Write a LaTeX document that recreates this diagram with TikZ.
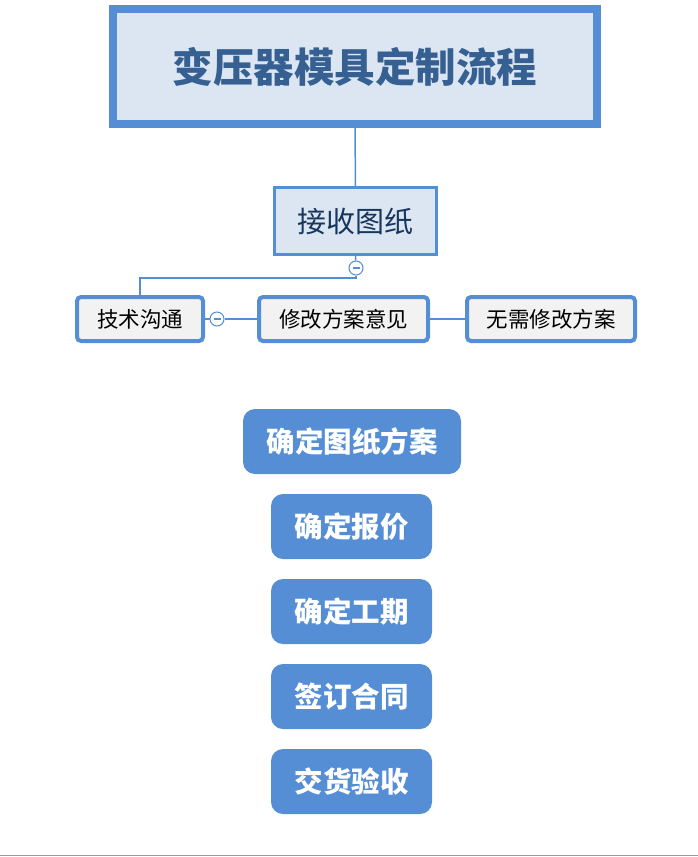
\documentclass[tikz,border=0pt]{standalone}
\usepackage{fontspec}
\setmainfont{Noto Sans CJK SC}
\usepackage{tikz}
\definecolor{lineblue}{HTML}{558ED5}
\definecolor{paleblue}{HTML}{DCE6F2}
\definecolor{titleblue}{HTML}{366092}
\definecolor{darknavy}{HTML}{17365D}
\definecolor{boxgray}{HTML}{F2F2F2}
\tikzset{
  link/.style={draw=lineblue, line width=1.5pt},
  topic/.style={draw=lineblue, fill=boxgray, line width=4pt, rounded corners=4pt, inner sep=0pt, minimum height=44pt, font=\fontsize{21.5}{26}\selectfont},
  stage/.style={fill=lineblue, text=white, rounded corners=12pt, inner sep=0pt, minimum height=65pt, font=\fontsize{28.5}{33}\selectfont\bfseries},
  fold/.style={draw=lineblue, fill=white, circle, line width=1pt, minimum size=14pt, inner sep=0pt,
    path picture={\draw[lineblue, line width=1.2pt] ([xshift=-3.5pt]path picture bounding box.center) -- ([xshift=3.5pt]path picture bounding box.center);}}
}
\begin{document}
\begin{tikzpicture}[x=1pt, y=-1pt]
			\useasboundingbox (0,0) rectangle (698,857);
			\node[draw=lineblue, fill=paleblue, line width=8pt, minimum width=484pt, minimum height=115pt, inner sep=0pt, text=titleblue, font=\fontsize{40.5}{46}\selectfont\bfseries] (title) at (355,66.5) {\raisebox{-3pt}{变压器模具定制流程}};
			\node[draw=lineblue, fill=paleblue, line width=3pt, minimum width=162pt, minimum height=67pt, inner sep=0pt, text=darknavy, font=\fontsize{29}{34}\selectfont] (receive) at (355.5,221) {接收图纸};
			\node[fold] (f1) at (356,268) {};
			\node[topic, minimum width=126pt] (talk) at (140,319) {技术沟通};
			\node[fold] (f2) at (217,319) {};
			\node[topic, minimum width=169pt] (revise) at (343.5,319) {修改方案意见};
			\node[topic, minimum width=168pt] (norevise) at (551,319) {无需修改方案};
			\coordinate (bend) at (356,278);
			\draw[link] (title.south) -- (receive.north);
			\draw[link] (receive.south) -- (f1);
			\draw[link] (f1.south) -- (bend) -| (talk.north);
			\draw[link] (talk.east) -- (f2.west);
			\draw[link] (f2.east) -- (revise.west);
			\draw[link] (revise.east) -- (norevise.west);
			
			\node[stage, minimum width=218pt] (plan) at (352,441.5) {确定图纸方案};
			\node[stage, minimum width=161pt] (quote) at (351.5,526.5) {确定报价};
			\node[stage, minimum width=161pt] (period) at (351.5,611.5) {确定工期};
			\node[stage, minimum width=161pt] (sign) at (351.5,696.5) {签订合同};
			\node[stage, minimum width=161pt] (deliver) at (351.5,781.5) {交货验收};
			
			\draw[gray!80, line width=1.5pt] (0,855.5) -- (698,855.5);
		\end{tikzpicture}
\end{document}
